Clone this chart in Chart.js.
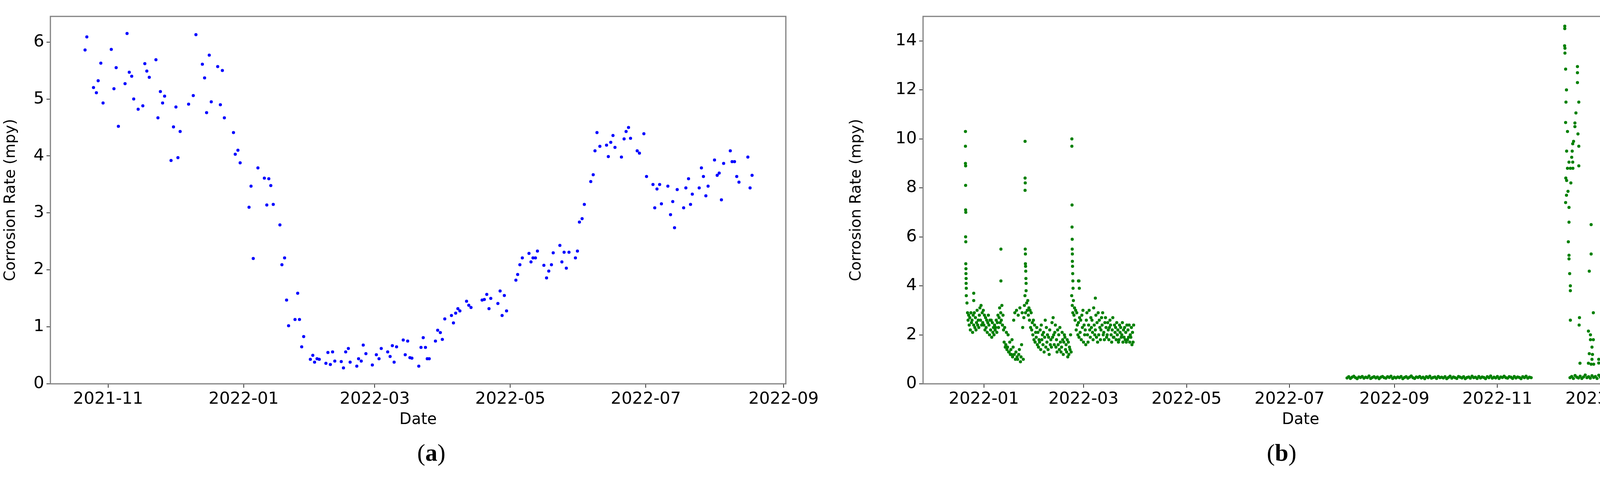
<!DOCTYPE html>
<html><head><meta charset="utf-8">
<script src="https://cdn.jsdelivr.net/npm/chart.js@4"></script>
<style>
html,body{margin:0;padding:0;background:#fff;width:4331px;height:1237px;overflow:hidden}
canvas{position:absolute;top:0}
.cap{position:absolute;top:1128px;font-family:"Liberation Serif",serif;font-size:62px;color:#000;line-height:1}
</style></head><body>
<canvas id="ca" width="2100" height="1100" style="left:0;width:2100px;height:1100px"></canvas>
<canvas id="cb" width="2166" height="1100" style="left:2165px;width:2166px;height:1100px"></canvas>
<div class="cap" style="left:1068px">(<b>a</b>)</div>
<div class="cap" style="left:3243px">(<b>b</b>)</div>
<script>
// ---------- Panel (a) : day offset from 2021-11-01, corrosion rate ----------
const aStart = '2021-11-01';
const aDay = [-10.4,-9.6,-6.6,-5.3,-4.5,-3.3,-2.3,1.4,2.6,3.6,4.6,7.6,8.5,9.5,10.6,11.5,13.5,15.6,16.5,17.4,18.5,21.5,22.4,23.5,24.5,25.4,28.3,29.4,30.5,31.4,32.4,36.2,38.3,39.5,42.4,43.4,44.3,45.5,46.4,49.3,50.5,51.4,52.3,56.4,57.2,58.4,59.4,63.4,64.3,65.3,67.4,70.3,71.4,72.3,73.2,74.3,77.3,78.2,79.4,80.3,81.2,84.1,85.3,86.1,87.1,88.0,91.0,92.1,92.9,94.0,95.0,98.0,98.9,100.0,101.0,102.0,104.9,105.9,106.9,108.1,108.9,111.9,112.7,113.9,114.8,116.0,118.9,120.7,121.9,122.9,125.8,126.9,127.9,128.7,129.8,132.8,133.7,134.8,135.8,136.7,139.8,140.8,141.8,142.8,143.6,144.5,147.3,148.3,149.5,150.4,151.5,154.5,155.4,156.4,157.4,158.3,161.3,162.3,163.3,168.3,169.3,170.4,171.4,172.2,175.4,176.4,177.3,178.3,179.3,183.5,184.3,185.3,186.4,189.4,190.3,191.2,192.3,193.2,196.1,197.3,198.3,199.5,200.3,203.3,204.2,205.2,206.2,207.4,210.3,211.2,212.1,213.3,214.3,217.2,218.3,219.1,220.0,221.3,224.3,225.1,226.2,227.2,228.1,231.0,232.2,233.1,234.2,235.1,238.1,239.1,241.1,242.3,245.2,246.0,247.0,248.2,249.0,251.9,253.1,254.1,254.9,256.1,259.0,260.0,261.2,262.1,262.9,266.0,267.0,267.9,269.0,270.0,272.9,274.1,275.0,276.0,277.0,280.0,280.8,281.9,282.9,283.9,287.9,288.9,289.8];
const aVal = [5.86,6.09,5.20,5.11,5.32,5.63,4.93,5.87,5.18,5.55,4.52,5.27,6.15,5.47,5.40,5.00,4.82,4.88,5.62,5.49,5.38,5.69,4.67,5.13,4.93,5.05,3.92,4.51,4.86,3.97,4.43,4.91,5.06,6.13,5.61,5.37,4.76,5.77,4.95,5.57,4.90,5.50,4.67,4.41,4.03,4.10,3.88,3.10,3.47,2.20,3.79,3.61,3.14,3.60,3.48,3.15,2.79,2.09,2.21,1.47,1.02,1.13,1.59,1.13,0.65,0.83,0.43,0.50,0.38,0.44,0.43,0.36,0.55,0.34,0.56,0.40,0.39,0.28,0.56,0.62,0.38,0.31,0.44,0.40,0.68,0.53,0.33,0.51,0.44,0.62,0.56,0.48,0.67,0.38,0.65,0.77,0.51,0.75,0.46,0.45,0.31,0.64,0.81,0.64,0.44,0.44,0.75,0.94,0.90,0.78,1.14,1.20,1.07,1.24,1.32,1.28,1.45,1.38,1.34,1.47,1.48,1.57,1.32,1.50,1.41,1.63,1.20,1.55,1.28,1.82,1.92,2.09,2.21,2.29,2.14,2.21,2.21,2.33,2.08,1.86,1.98,2.09,2.30,2.43,2.14,2.31,2.03,2.31,2.21,2.33,2.84,2.90,3.15,3.55,3.67,4.09,4.41,4.17,4.19,3.99,4.24,4.36,4.15,3.98,4.30,4.43,4.50,4.31,4.09,4.05,4.39,3.64,3.50,3.09,3.42,3.50,3.16,3.47,2.97,3.20,2.74,3.41,3.09,3.44,3.60,3.15,3.33,3.44,3.79,3.64,3.30,3.47,3.93,3.66,3.70,3.23,3.87,4.09,3.90,3.90,3.64,3.54,3.98,3.44,3.66];
const aTicks = ['2021-11','2022-01','2022-03','2022-05','2022-07','2022-09'];
const aYTicks = [0,1,2,3,4,5,6];

// ---------- Panel (b) : day offset from 2022-01-01 ----------
// dense band Dec 2021 - Mar 2022, three readings per day starting day -10
const bBandStart = -10, bBandPerDay = 3;
const bBand = [
3.3,2.9,2.6, 2.8,2.4,2.7, 2.2,2.9,2.5, 2.6,2.1,2.8, 2.4,2.9,2.3, 2.7,2.2,2.5, 3.0,2.4,2.6, 2.3,2.8,3.1, 2.6,3.2,2.4, 2.9,2.5,3.0,
2.4,2.8,2.2, 2.7,2.3,2.6, 2.1,2.5,2.8, 2.4,2.0,2.6, 2.2,2.6,1.9, 2.5,2.1,2.3, 2.0,2.4,2.2, 2.3,2.6,2.1, 2.5,2.8,2.3, 2.7,3.1,2.5,
2.9,2.6,3.2, 2.4,2.8,2.2, 1.7,2.3,1.5, 1.6,2.1,1.4, 1.5,2.0,1.3, 1.3,1.7,1.2, 1.4,1.2,1.8, 1.1,1.5,2.6, 1.2,2.9,1.0, 1.3,3.0,1.1,
1.0,2.8,1.2, 1.4,3.1,0.9, 1.1,1.6,2.9, 2.3,1.0,2.7, 3.2,3.6,2.9, 3.8,3.3,3.0, 3.4,2.8,3.1, 2.6,3.0,2.3, 2.9,2.2,2.5, 2.0,2.6,1.8,
2.4,1.7,2.1, 1.9,2.3,1.6, 2.1,1.5,1.8, 1.7,2.2,1.4, 2.4,1.8,2.0, 1.6,2.1,1.3, 1.9,2.6,1.5, 2.3,1.7,2.0, 1.4,1.9,1.2, 2.2,1.6,1.8,
1.5,2.5,1.9, 2.7,2.0,1.6, 2.1,2.4,1.5, 1.8,1.3,2.2, 1.6,2.0,1.4, 2.3,1.7,1.3, 1.5,2.1,1.8, 1.2,1.7,2.0, 1.9,1.4,1.6, 1.3,1.8,1.1,
1.7,1.2,1.5, 1.4,2.0,1.3, 3.6,3.2,2.9, 3.4,2.8,3.1, 2.6,3.0,2.2, 2.9,2.4,2.0, 2.5,1.9,2.7, 2.1,2.6,1.8, 2.8,2.3,3.0, 1.7,2.4,2.0,
2.2,1.6,2.6, 2.9,2.0,1.7, 2.4,3.0,2.2, 1.9,2.7,2.3, 2.6,2.1,1.8, 3.1,2.4,2.0, 2.2,2.8,1.9, 2.5,1.7,2.9, 2.0,2.6,2.3, 1.8,2.2,2.7,
2.4,2.9,2.0, 2.1,1.8,2.5, 2.7,2.3,1.9, 2.0,2.5,2.2, 1.8,2.3,2.6, 2.4,2.0,1.7, 2.2,2.7,1.9, 1.9,2.4,2.1, 2.3,1.8,2.5, 2.0,2.2,1.7,
1.8,2.4,2.1, 2.3,1.9,2.0, 2.5,1.7,2.2, 1.9,2.3,1.8, 2.1,1.7,2.4, 1.8,2.2,1.9, 2.4,1.7,2.0, 1.9,2.3,1.6, 2.1,1.7,2.4];
// isolated high readings (day, value)
const bSpikeDay = [-10.9,-10.9,-10.9,-10.8,-10.8,-10.8,-10.7,-10.8,-10.7,-10.7,-10.6,-10.6,-10.5,-10.5,-10.4,-10.4,-6,-6,10.1,10.1,24.4,24.4,24.5,24.4,24.5,24.6,24.6,24.7,24.8,24.9,25.0,52.1,52.1,52.2,52.2,52.3,52.3,52.4,52.4,52.5,52.6,52.7,52.8,56,56.3,56.5,66,
343.9,343.9,343.8,344.0,344.0,344.4,344.9,344.6,344.4,345.5,345.0,346.4,345.5,347.2,344.5,345.0,345.8,344.9,344.4,346.4,346.4,346.0,346.4,346.4,346.8,347.2,347.2,347.2,
351.4,351.4,351.4,352.2,350.5,349.9,349.9,351.7,349.1,348.6,348.3,352.2,348.0,348.6,348.7,352.2,347.5,352.6,352.4,352.9,
359.5,359.5,358.4,360.8,357.9,359.1,359.1,360.8,360.0,358.4,360.3,360.0,357.9,359.5,361.0,364.0,364.0,386.3,386.0,386.3];
const bSpikeVal = [10.3,9.7,9.0,8.9,8.1,7.1,7.0,6.0,5.8,4.9,4.7,4.5,4.3,4.1,3.9,3.6,3.7,3.4,5.5,4.2,9.9,8.4,8.2,7.9,5.5,5.3,4.9,4.8,4.6,4.3,4.1,10.0,9.7,7.3,6.4,5.9,5.5,5.3,5.0,4.8,4.5,4.2,3.9,4.2,4.2,3.9,3.5,
14.6,14.5,13.8,13.7,13.5,12.85,12.0,11.5,10.67,10.3,9.5,9.05,8.8,8.8,8.4,8.3,7.86,7.7,7.4,7.2,6.6,5.8,5.25,5.1,4.5,4.0,3.8,2.6,
12.95,12.7,12.3,11.5,11.06,10.65,10.5,10.2,9.9,9.8,9.5,9.7,9.25,9.05,8.8,8.9,8.2,2.7,2.4,0.84,
6.5,5.3,4.6,2.9,2.15,2.0,1.8,1.8,1.5,1.23,1.2,1.0,0.84,0.8,0.8,1.0,0.85,8.2,3.15,0.8];
// low flat readings Aug - Nov 2022, one per day starting day 215
const bFlatStart = 215;
const bFlat = [0.24,0.29,0.22,0.27,0.31,0.25,0.21,0.28,0.26,0.30,0.23,0.27,0.25,0.32,0.22,0.26,0.29,0.24,0.28,0.21,
0.27,0.30,0.25,0.23,0.29,0.26,0.31,0.22,0.27,0.24,0.28,0.25,0.30,0.21,0.26,0.29,0.23,0.27,0.32,0.25,
0.22,0.28,0.26,0.30,0.24,0.27,0.21,0.29,0.25,0.31,0.23,0.26,0.28,0.22,0.30,0.25,0.27,0.24,0.29,0.21,
0.26,0.31,0.23,0.28,0.25,0.22,0.30,0.27,0.24,0.29,0.21,0.26,0.28,0.23,0.31,0.25,0.27,0.22,0.30,0.24,
0.28,0.26,0.21,0.29,0.25,0.32,0.23,0.27,0.24,0.30,0.22,0.28,0.26,0.31,0.25,0.23,0.29,0.27,0.22,0.30,
0.24,0.28,0.26,0.21,0.29,0.25,0.31,0.23,0.27,0.25];
// low readings Dec 2022 - Jan 2023, one per day starting day 347
const bLowStart = 347;
const bLow = [0.25,0.30,0.22,0.34,0.27,0.24,0.31,0.22,0.28,0.36,0.25,0.29,0.23,0.33,0.26,0.30,0.22,0.35,0.27,0.24,
0.29,0.26,0.31,0.23,0.28,0.25,0.30,0.22,0.27,0.24,0.29,0.26,0.31,0.23,0.28,0.25,0.30,0.24,0.27,0.32,0.26,0.29,0.25];
const bTicks = ['2022-01','2022-03','2022-05','2022-07','2022-09','2022-11','2023-01'];
const bYTicks = [0,2,4,6,8,10,12,14];

// ---------- helpers ----------
const DAY = 86400000, REF = Date.UTC(2022,0,1);
const toDay = s => { const p = s.split('-').map(Number); return (Date.UTC(p[0],p[1]-1,p[2]||1) - REF)/DAY; };
const aOff = toDay(aStart);
const ptsA = aDay.map((d,i)=>({x:d+aOff, y:aVal[i]}));
const ptsB = [];
bBand.forEach((v,i)=>ptsB.push({x:bBandStart + i/bBandPerDay, y:v}));
bSpikeDay.forEach((d,i)=>ptsB.push({x:d, y:bSpikeVal[i]}));
bFlat.forEach((v,i)=>ptsB.push({x:bFlatStart+i, y:v}));
bLow.forEach((v,i)=>ptsB.push({x:bLowStart+i, y:v}));

const FONT = '"DejaVu Sans", sans-serif';
const frame = {id:'frame', afterDraw(c){const a=c.chartArea,x=c.ctx;x.save();x.strokeStyle='#808080';x.lineWidth=3;x.strokeRect(a.left,a.top,a.right-a.left,a.bottom-a.top);x.restore();}};

function make(id, pts, color, ticks, yticks, xmin, xmax, ymax, yw, padR){
  const tickDays = ticks.map(toDay);
  new Chart(document.getElementById(id), {
    type:'scatter',
    data:{datasets:[{data:pts, backgroundColor:color, borderColor:color, pointRadius:4, pointBorderWidth:0}]},
    options:{
      animation:false, responsive:false, devicePixelRatio:1,
      layout:{padding:{top:42, right:padR, left:0, bottom:0}},
      plugins:{legend:{display:false}, tooltip:{enabled:false}},
      scales:{
        x:{type:'linear', min:xmin, max:xmax,
          afterBuildTicks:s=>{s.ticks = tickDays.map(v=>({value:v}));},
          afterFit:s=>{s.height = 1100-983;},
          ticks:{font:{family:FONT,size:43}, color:'#000', maxRotation:0, padding:4,
            callback:(v)=>ticks[tickDays.indexOf(v)]},
          grid:{drawOnChartArea:false, drawTicks:true, tickLength:10, color:'#333', lineWidth:2},
          border:{display:false},
          title:{display:true, text:'Date', font:{family:FONT,size:40}, color:'#000', padding:{top:0,bottom:0}}},
        y:{min:0, max:ymax,
          afterBuildTicks:s=>{s.ticks = yticks.map(v=>({value:v}));},
          afterFit:s=>{s.width = yw;},
          ticks:{font:{family:FONT,size:43}, color:'#000', padding:6},
          grid:{drawOnChartArea:false, drawTicks:true, tickLength:10, color:'#333', lineWidth:2},
          border:{display:false},
          title:{display:true, text:'Corrosion Rate (mpy)', font:{family:FONT,size:39}, color:'#000', padding:{bottom:4}}}
      }
    },
    plugins:[frame]
  });
}
make('ca', ptsA, '#0000ff', aTicks, aYTicks, toDay('2021-10-06'), toDay('2022-09-02'), 6.45, 129, 29);
make('cb', ptsB, '#008000', bTicks, bYTicks, toDay('2021-11-26'), toDay('2023-02-16'), 15, 198, 35);
</script></body></html>
